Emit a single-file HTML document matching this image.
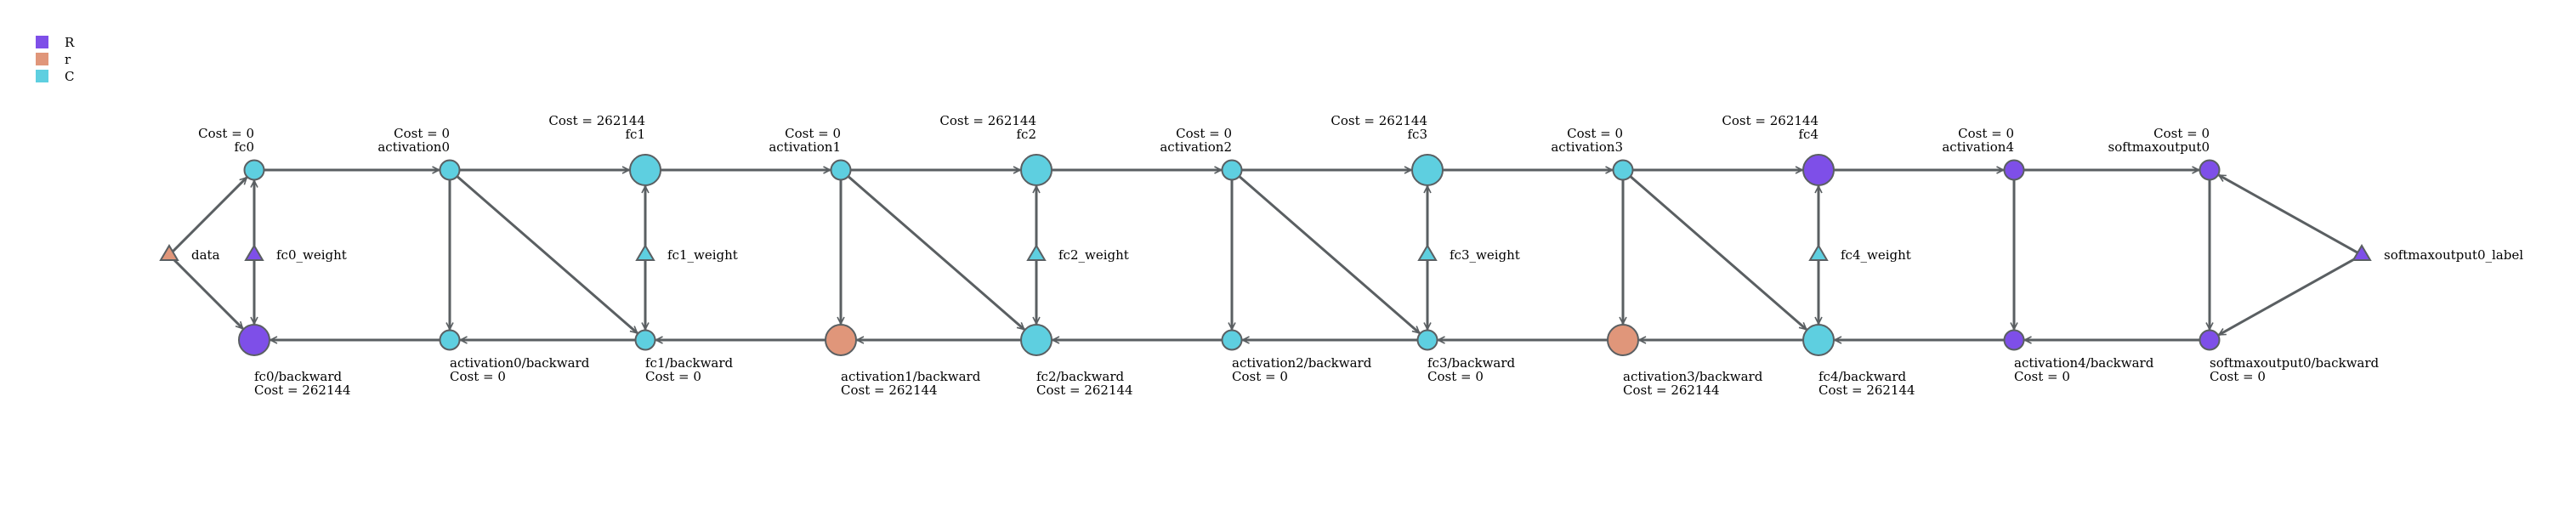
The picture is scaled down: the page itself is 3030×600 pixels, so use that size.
<!DOCTYPE html>
<html><head><meta charset="utf-8"><style>
html,body{margin:0;padding:0;background:#fff;}
svg{display:block;}
text{font-family:"DejaVu Serif","Liberation Serif",serif;font-size:15px;fill:#000;}
</style></head><body>
<svg id="s" width="3030" height="600" viewBox="0 0 3030 600" xmlns="http://www.w3.org/2000/svg">
<defs>
<marker id="a" markerUnits="userSpaceOnUse" markerWidth="12" markerHeight="12" refX="9" refY="5" orient="auto">
<path d="M1,1 L9,5 L1,9" fill="none" stroke="#5a5f62" stroke-width="1.6"/>
</marker>
</defs>
<rect x="42" y="42" width="15" height="15" fill="#7e4fe8"/>
<rect x="42" y="62" width="15" height="15" fill="#e0967a"/>
<rect x="42" y="82" width="15" height="15" fill="#5ecfe0"/>
<text x="76" y="55">R</text>
<text x="76" y="75">r</text>
<text x="76" y="95">C</text>
<g id="e"></g>
<g id="n"></g>
</svg>
<script>
(function(){
var P="#7e4fe8",O="#e0967a",C="#5ecfe0";
function X(i){return 299+230*i;}
var TY=200,BY=400,MY=300;
var tops=[["fc0",C,11.5,"0"],["activation0",C,11.5,"0"],["fc1",C,18,"262144"],["activation1",C,11.5,"0"],["fc2",C,18,"262144"],["activation2",C,11.5,"0"],["fc3",C,18,"262144"],["activation3",C,11.5,"0"],["fc4",P,18,"262144"],["activation4",P,11.5,"0"],["softmaxoutput0",P,11.5,"0"]];
var bots=[["fc0/backward",P,18,"262144"],["activation0/backward",C,11.5,"0"],["fc1/backward",C,11.5,"0"],["activation1/backward",O,18,"262144"],["fc2/backward",C,18,"262144"],["activation2/backward",C,11.5,"0"],["fc3/backward",C,11.5,"0"],["activation3/backward",O,18,"262144"],["fc4/backward",C,18,"262144"],["activation4/backward",P,11.5,"0"],["softmaxoutput0/backward",P,11.5,"0"]];
var tris=[[X(0),"fc0_weight",P],[X(2),"fc1_weight",C],[X(4),"fc2_weight",C],[X(6),"fc3_weight",C],[X(8),"fc4_weight",C]];
var e="",n="";
function edge(x1,y1,r1,x2,y2,r2){var dx=x2-x1,dy=y2-y1,L=Math.sqrt(dx*dx+dy*dy),ux=dx/L,uy=dy/L;
e+='<line x1="'+(x1+ux*r1)+'" y1="'+(y1+uy*r1)+'" x2="'+(x2-ux*(r2+1))+'" y2="'+(y2-uy*(r2+1))+'" stroke="#5a5f62" stroke-width="3" marker-end="url(#a)"/>';}
var i;
for(i=0;i<10;i++){edge(X(i),TY,tops[i][2],X(i+1),TY,tops[i+1][2]);edge(X(i+1),BY,bots[i+1][2],X(i),BY,bots[i][2]);}
for(i=1;i<=9;i+=2){edge(X(i),TY,tops[i][2],X(i),BY,bots[i][2]);}
edge(X(10),TY,tops[10][2],X(10),BY,bots[10][2]);
for(i=1;i<=7;i+=2){edge(X(i),TY,tops[i][2],X(i+1),BY,bots[i+1][2]);}
tris.forEach(function(t,k){var c=2*k;edge(t[0],MY-8,0,X(c),TY,tops[c][2]);edge(t[0],MY+5,0,X(c),BY,bots[c][2]);});
var DX=199,LX=2778;
edge(DX,MY,6,X(0),TY,tops[0][2]);edge(DX,MY,6,X(0),BY,bots[0][2]);
edge(LX,MY,6,X(10),TY,tops[10][2]);edge(LX,MY,6,X(10),BY,bots[10][2]);
function tri(x,c,lab){n+='<polygon points="'+(x-10)+','+(MY+6)+' '+(x+10)+','+(MY+6)+' '+x+','+(MY-11)+'" fill="'+c+'" stroke="#5a5f62" stroke-width="2"/>';
n+='<text x="'+(x+26)+'" y="'+(MY+5)+'">'+lab+'</text>';}
tris.forEach(function(t){tri(t[0],t[2],t[1]);});
tri(DX,O,"data");tri(LX,P,"softmaxoutput0_label");
tops.forEach(function(t,i){var x=X(i),big=t[2]>12;n+='<circle cx="'+x+'" cy="'+TY+'" r="'+t[2]+'" fill="'+t[1]+'" stroke="#5a5f62" stroke-width="2"/>';
var y1=big?147:162;n+='<text x="'+x+'" y="'+y1+'" text-anchor="end">Cost = '+t[3]+'</text><text x="'+x+'" y="'+(y1+16)+'" text-anchor="end">'+t[0]+'</text>';});
bots.forEach(function(t,i){var x=X(i),big=t[2]>12;n+='<circle cx="'+x+'" cy="'+BY+'" r="'+t[2]+'" fill="'+t[1]+'" stroke="#5a5f62" stroke-width="2"/>';
var y1=big?448:432;n+='<text x="'+x+'" y="'+y1+'">'+t[0]+'</text><text x="'+x+'" y="'+(y1+16)+'">Cost = '+t[3]+'</text>';});
document.getElementById("e").innerHTML=e;document.getElementById("n").innerHTML=n;
})();
</script>
</body></html>
